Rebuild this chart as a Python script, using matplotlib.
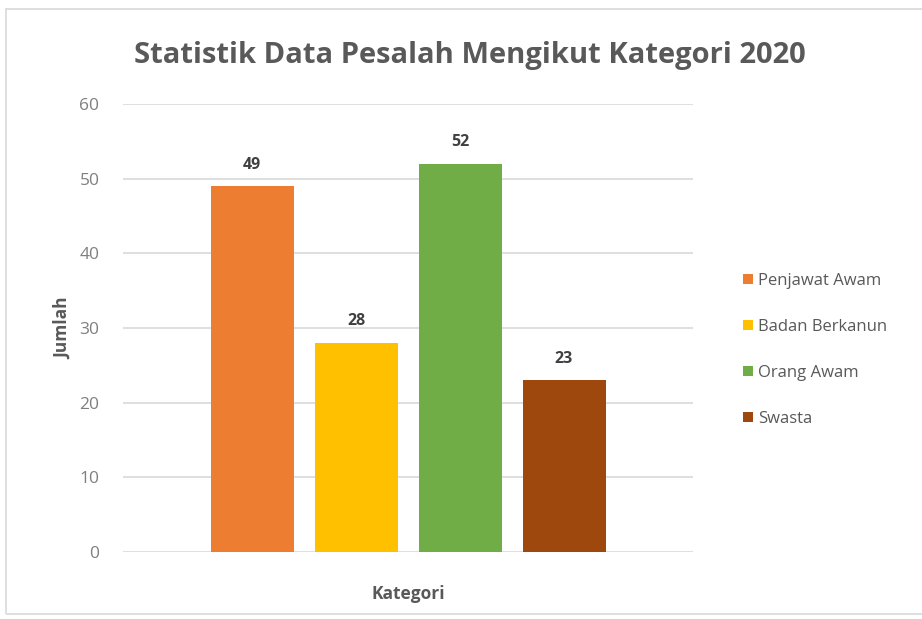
import matplotlib.pyplot as plt
from matplotlib.patches import Rectangle
import numpy as np

plt.rcParams['font.family'] = ['Open Sans', 'DejaVu Sans']

categories = ['Penjawat Awam', 'Badan Berkanun', 'Orang Awam', 'Swasta']
values = [49, 28, 52, 23]
colors = ['#ED7D31', '#FFC000', '#70AD47', '#9E480E']
y_ticks = [0, 10, 20, 30, 40, 50, 60]

fig = plt.figure(figsize=(9.22, 6.19), dpi=100)
ax = fig.add_axes([123 / 922, 1 - 552 / 619, 570 / 922, 448 / 619])

# chart border
fig.patches.append(Rectangle((6 / 922, 1 - 614 / 619), 930 / 922, 605 / 619,
                             transform=fig.transFigure, fill=False,
                             edgecolor='#D9D9D9', linewidth=1.2))

# 4 series in one cluster
offsets = np.arange(len(categories)) - (len(categories) - 1) / 2
spacing = 104 / 570
width = 83 / 570
for i, (cat, val, col) in enumerate(zip(categories, values, colors)):
    x = 0.5 + offsets[i] * spacing
    ax.bar(x, val, width=width, color=col, label=cat, zorder=3)
    ax.text(x, val + 1.8, str(val), ha='center', va='bottom',
            fontsize=11.5, fontweight='bold', color='#404040')

ax.set_xlim(0, 1)
ax.set_ylim(0, 60)
ax.set_yticks(y_ticks)
ax.set_xticks([])
ax.yaxis.grid(True, color='#D9D9D9', linewidth=1.2, zorder=0)
for s in ax.spines.values():
    s.set_visible(False)
ax.tick_params(axis='y', length=0, pad=17, labelsize=12.5, labelcolor='#7F7F7F')

ax.set_ylabel('Jumlah', fontsize=12.5, color='#595959', fontweight='bold', labelpad=5)
ax.set_xlabel('Kategori', fontsize=12.5, color='#595959', fontweight='bold', labelpad=24)

fig.text(470 / 922, 1 - 55 / 619, 'Statistik Data Pesalah Mengikut Kategori 2020',
         ha='center', va='center', fontsize=21, color='#595959', fontweight='bold')

leg = ax.legend(loc='center left', bbox_to_anchor=(728 / 922, 1 - 350 / 619),
                bbox_transform=fig.transFigure, frameon=False, fontsize=12,
                handlelength=0.6, handleheight=0.6, handletextpad=0.3,
                labelspacing=1.8, labelcolor='#595959')

fig.savefig('out.png', dpi=100, facecolor='white')
